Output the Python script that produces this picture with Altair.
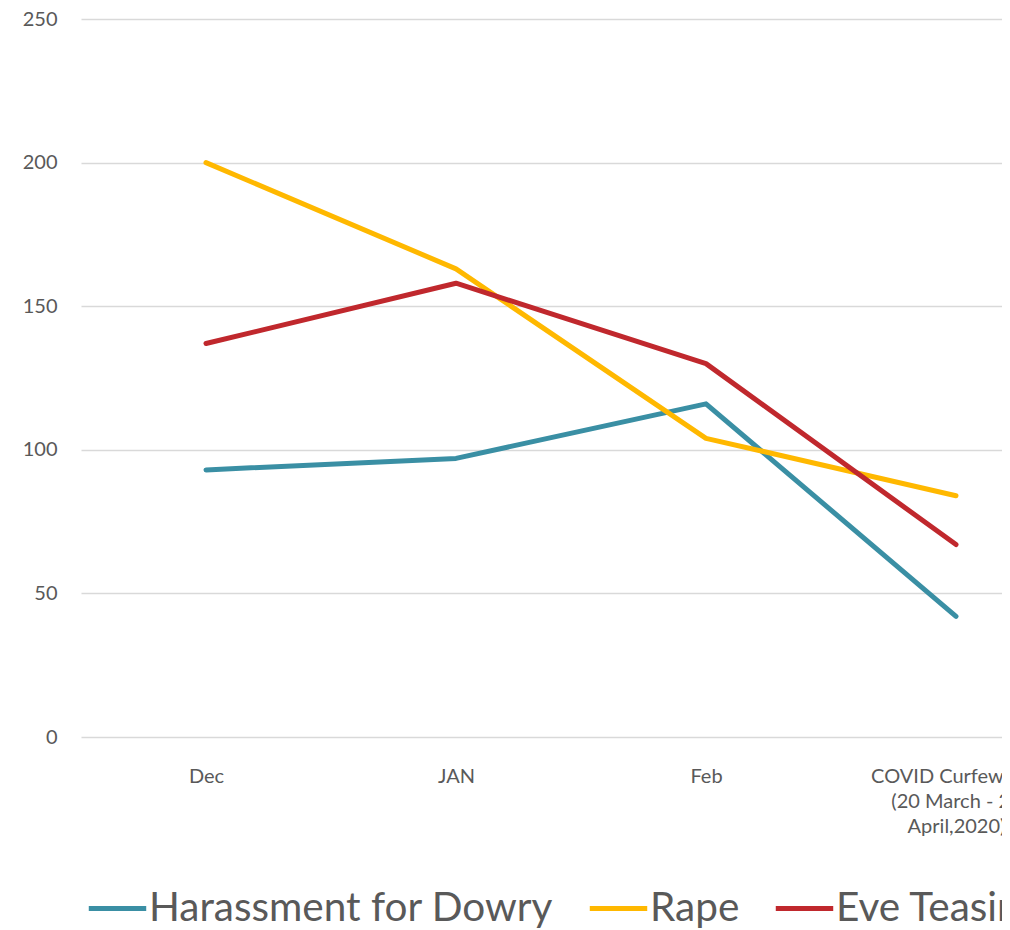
import altair as alt
import pandas as pd

categories = ["Dec", "JAN", "Feb", "COVID Curfew Month\n(20 March - 20\nApril,2020)"]
series = ["Harassment for Dowry", "Rape", "Eve Teasing"]
dowry = [93, 97, 116, 42]
rape = [200, 163, 104, 84]
eve = [137, 158, 130, 67]
colors = ["#3A8FA4", "#FFB800", "#C0282D"]

rows = []
for name, vals in zip(series, [dowry, rape, eve]):
    for i, (c, v) in enumerate(zip(categories, vals)):
        rows.append({"period": c, "order": i, "series": name, "value": v})
df = pd.DataFrame(rows)

font = "Lato"
grey = "#595959"

chart = alt.Chart(df).mark_line(strokeWidth=5, strokeCap="round", strokeJoin="round").encode(
    x=alt.X("period:N", sort=categories, title=None,
            scale=alt.Scale(type="point", padding=0.5, range=[0, 1000]),
            axis=alt.Axis(labelAngle=0, domain=False, ticks=False, grid=False,
                          labelFont=font, labelFontSize=20, labelColor=grey,
                          labelPadding=29, labelLineHeight=25,
                          labelExpr="split(datum.label, '\\n')")),
    y=alt.Y("value:Q", title=None,
            scale=alt.Scale(domain=[0, 250], nice=False),
            axis=alt.Axis(values=[0, 50, 100, 150, 200, 250], domain=False, ticks=False,
                          grid=True, gridColor="#D9D9D9", gridWidth=1.3,
                          labelFont=font, labelFontSize=20, labelColor=grey,
                          labelPadding=24)),
    color=alt.Color("series:N", sort=series,
                    scale=alt.Scale(domain=series, range=colors),
                    legend=alt.Legend(title=None, orient="none", direction="horizontal",
                                      legendX=5, legendY=858, padding=0,
                                      symbolType="stroke", symbolSize=3300,
                                      symbolStrokeWidth=5, labelFont=font,
                                      labelFontSize=40.5, labelColor=grey,
                                      labelOffset=0, columnPadding=25,
                                      labelLimit=600)),
    order=alt.Order("order:Q"),
).properties(
    width=921, height=718,
    autosize=alt.AutoSizeParams(type="none"),
    padding={"left": 73, "top": 11, "right": 0, "bottom": 195},
).configure_view(stroke=None)

chart.save("out.html", embed_options={"renderer": "svg", "actions": False})
